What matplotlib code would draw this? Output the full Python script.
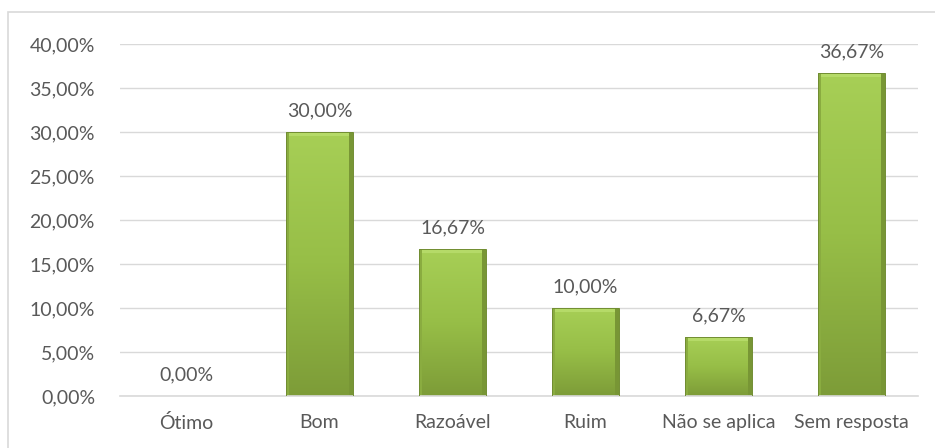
import numpy as np
import matplotlib.pyplot as plt
from matplotlib.patches import Rectangle
from matplotlib.colors import LinearSegmentedColormap

categorias = ['Ótimo', 'Bom', 'Razoável', 'Ruim', 'Não se aplica', 'Sem resposta']
valores = [0.0, 30.00, 16.67, 10.00, 6.67, 36.67]
yticks = [0, 5, 10, 15, 20, 25, 30, 35, 40]

plt.rcParams['font.family'] = ['Lato', 'DejaVu Sans']
cinza = '#595959'

fig = plt.figure(figsize=(9.35, 4.48), dpi=100)
# moldura do gráfico
fig.patches.append(Rectangle((8/935, -0.1), 1.1, 1 - 12/448 + 0.1,
                             transform=fig.transFigure, fill=False,
                             edgecolor='#d9d9d9', linewidth=1.2))
ax = fig.add_axes([120/935, 1 - 396/448, 798/935, 352/448])

x = np.arange(len(categorias))
largura = 0.5
verde = LinearSegmentedColormap.from_list('verde', ['#7d9c38', '#97be47', '#a7cf56'])
grad = np.linspace(0, 1, 256).reshape(-1, 1)

barras = ax.bar(x, valores, width=largura, color='none', edgecolor='#718d32',
                linewidth=0.7, zorder=3)
for b, v in zip(barras, valores):
    if v <= 0:
        continue
    x0, w = b.get_x(), b.get_width()
    img = ax.imshow(grad, cmap=verde, aspect='auto', origin='lower',
                    extent=[x0, x0 + w, 0, v], zorder=2)
    img.set_clip_path(b)
    # chanfro claro no topo e sombra leve nas laterais
    ax.add_patch(Rectangle((x0, v - 0.45), w, 0.45, color='#b5da68', lw=0, zorder=2.5))
    ax.add_patch(Rectangle((x0 + w - 0.025, 0), 0.025, v, color='#789635', lw=0, zorder=2.5))
    ax.add_patch(Rectangle((x0, 0), 0.02, v, color='#8aac40', lw=0, zorder=2.5))

for xi, v in zip(x, valores):
    ax.annotate(f'{v:.2f}%'.replace('.', ','), (xi, v), xytext=(0, 9),
                textcoords='offset points', ha='center', va='bottom',
                fontsize=14, color=cinza)

ax.set_xlim(-0.5, len(categorias) - 0.5)
ax.set_ylim(0, 40)
ax.set_yticks(yticks)
ax.set_yticklabels([f'{t:.2f}%'.replace('.', ',') for t in yticks])
ax.set_xticks(x)
ax.set_xticklabels(categorias)
ax.tick_params(axis='both', length=0, labelsize=14, labelcolor=cinza)
ax.tick_params(axis='y', pad=18)
ax.tick_params(axis='x', pad=13)
ax.grid(axis='y', color='#d9d9d9', linewidth=1, zorder=0)
ax.set_axisbelow(True)
for lado in ['top', 'right', 'left']:
    ax.spines[lado].set_visible(False)
ax.spines['bottom'].set_color('#d9d9d9')
ax.spines['bottom'].set_linewidth(1.2)

fig.savefig('out.png', dpi=100)
